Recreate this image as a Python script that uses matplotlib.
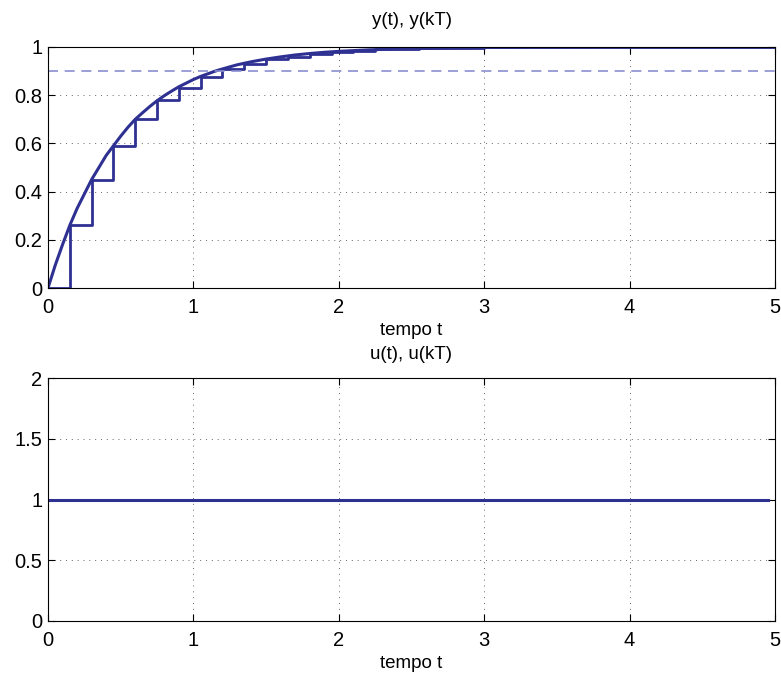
import numpy as np
import matplotlib
matplotlib.use('Agg')
import matplotlib.pyplot as plt

plt.rcParams['font.family'] = ['Liberation Sans', 'DejaVu Sans']

# risposta continua y(t)
t_cont = [0, 0.05, 0.1, 0.15, 0.2, 0.25, 0.3, 0.35, 0.4, 0.45, 0.5, 0.55,
          0.6, 0.65, 0.7, 0.75, 0.8, 0.85, 0.9, 0.95, 1.0, 1.05, 1.1, 1.15,
          1.2, 1.3, 1.4, 1.5, 1.6, 1.7, 1.8, 1.9, 2.0, 2.2, 2.4, 2.6, 2.8,
          3.0, 3.5, 4.0, 4.5, 5.0]
y_cont = [0, 0.095, 0.18, 0.26, 0.33, 0.39, 0.45, 0.50, 0.55, 0.59, 0.63,
          0.667, 0.70, 0.727, 0.753, 0.777, 0.798, 0.817, 0.835, 0.85,
          0.865, 0.878, 0.889, 0.90, 0.909, 0.926, 0.939, 0.95, 0.959, 0.967,
          0.973, 0.978, 0.982, 0.988, 0.992, 0.994, 0.996, 0.998, 0.999,
          1.0, 1.0, 1.0]

# campioni y(kT), T = 0.15
T = 0.15
y_samp = [0, 0.26, 0.45, 0.59, 0.70, 0.78, 0.83, 0.875, 0.91, 0.93, 0.95,
          0.96, 0.97, 0.978, 0.985, 0.99, 0.992, 0.994, 0.996, 0.997, 0.998,
          0.998, 0.999, 0.999, 0.999, 1.0, 1.0, 1.0, 1.0, 1.0, 1.0, 1.0,
          1.0, 1.0]
t_samp = np.arange(len(y_samp)) * T

soglia = 0.9

# ingresso
t_u = [0, 4.95]
u_val = [1, 1]

blu = '#2e3192'
blu_chiaro = '#8a8fcf'

fig = plt.figure(figsize=(7.81, 6.75), dpi=100, facecolor='white')
ax1 = fig.add_axes([48 / 781, 1 - 288 / 675, 727 / 781, 241 / 675])
ax2 = fig.add_axes([48 / 781, 1 - 621 / 675, 727 / 781, 243 / 675])


def stile(ax):
    ax.grid(True, linestyle=(0, (1, 5)), color='#666666', linewidth=0.7)
    ax.tick_params(direction='in', top=True, right=True, labelsize=14.5,
                   length=5, width=0.8)
    ax.tick_params(axis='x', pad=7)
    ax.tick_params(axis='y', pad=4)
    for s in ax.spines.values():
        s.set_linewidth(0.8)
    ax.set_xlim(0, 5)
    ax.set_xticks([0, 1, 2, 3, 4, 5])
    ax.set_xlabel('tempo t', fontsize=13.5, labelpad=4)


ax1.plot(t_cont, y_cont, color=blu, linewidth=2.2)
ax1.step(np.append(t_samp, 5.0), np.append(y_samp, y_samp[-1]), where='post',
         color=blu, linewidth=2.0)
ax1.axhline(soglia, color=blu_chiaro, linestyle=(0, (6, 4)), linewidth=1.2)
ax1.set_ylim(0, 1)
ax1.set_yticks([0, 0.2, 0.4, 0.6, 0.8, 1])
ax1.set_yticklabels(['0', '0.2', '0.4', '0.6', '0.8', '1'])
ax1.set_title('y(t), y(kT)', fontsize=13.5, pad=16)
stile(ax1)

ax2.plot(t_u, u_val, color=blu, linewidth=2.2)
ax2.set_ylim(0, 2)
ax2.set_yticks([0, 0.5, 1, 1.5, 2])
ax2.set_yticklabels(['0', '0.5', '1', '1.5', '2'])
ax2.set_title('u(t), u(kT)', fontsize=13.5, pad=14)
stile(ax2)

plt.savefig('out.png', dpi=100)
